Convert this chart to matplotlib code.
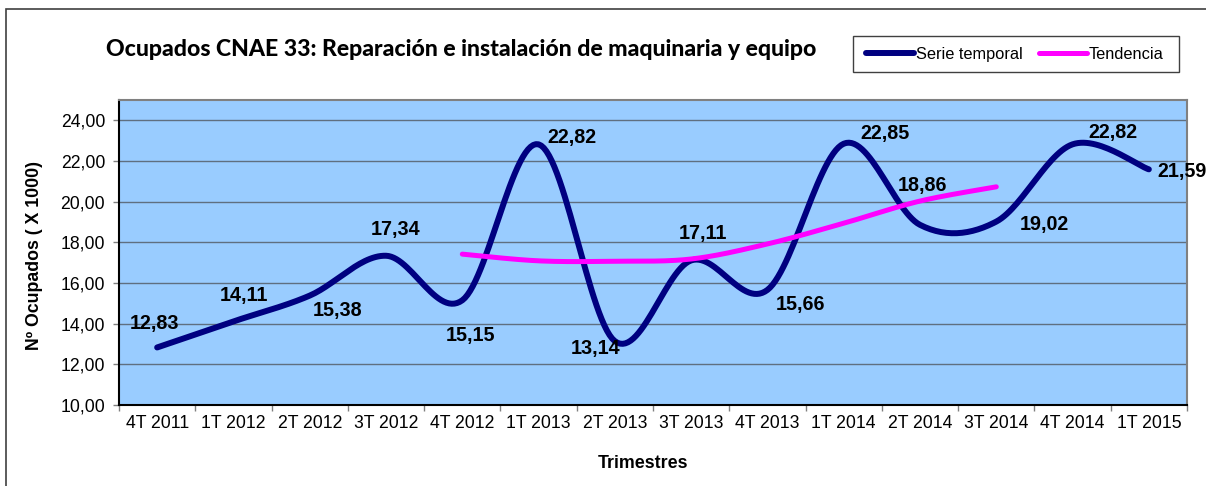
import numpy as np
import matplotlib
matplotlib.use("Agg")
import matplotlib.pyplot as plt
from matplotlib.patches import Rectangle

# Ocupados CNAE 33 - serie temporal y tendencia por trimestre

trimestres = ["4T 2011", "1T 2012", "2T 2012", "3T 2012", "4T 2012", "1T 2013", "2T 2013",
              "3T 2013", "4T 2013", "1T 2014", "2T 2014", "3T 2014", "4T 2014", "1T 2015"]
serie = [12.83, 14.11, 15.38, 17.34, 15.15, 22.82, 13.14,
         17.11, 15.66, 22.85, 18.86, 19.02, 22.82, 21.59]
tendencia = [None, None, None, None, 17.42, 17.09, 17.07,
             17.18, 17.92, 18.94, 20.03, 20.73, None, None]
etiquetas = ["12,83", "14,11", "15,38", "17,34", "15,15", "22,82", "13,14",
             "17,11", "15,66", "22,85", "18,86", "19,02", "22,82", "21,59"]
# label offsets in pixels (dx, dy) from each point
offsets = [(-3, 24), (11, 26), (28, -15), (10, 26), (8, -35), (33, 7), (-19, -7),
           (12, 27), (33, -15), (41, 10), (3, 39), (48, -3), (40, 12), (33, -2)]


def smooth(x, y, n=30):
    # excel-like smoothed line (catmull-rom as cubic bezier)
    x = np.asarray(x, float)
    y = np.asarray(y, float)
    px = np.concatenate([[x[0]], x, [x[-1]]])
    py = np.concatenate([[y[0]], y, [y[-1]]])
    xs, ys = [], []
    t = np.linspace(0, 1, n)
    for i in range(1, len(px) - 2):
        p0 = np.array([px[i], py[i]])
        p3 = np.array([px[i + 1], py[i + 1]])
        c1 = p0 + (p3 - np.array([px[i - 1], py[i - 1]])) / 6
        c2 = p3 - (np.array([px[i + 2], py[i + 2]]) - p0) / 6
        b = (np.outer((1 - t) ** 3, p0) + np.outer(3 * (1 - t) ** 2 * t, c1)
             + np.outer(3 * (1 - t) * t ** 2, c2) + np.outer(t ** 3, p3))
        xs.append(b[:, 0])
        ys.append(b[:, 1])
    return np.concatenate(xs), np.concatenate(ys)


W, H = 1206, 486
fig = plt.figure(figsize=(W / 100, H / 100), dpi=100)
fig.patches.append(Rectangle((6 / W, -0.1), 1.2, 1 - 9 / H + 0.1, transform=fig.transFigure,
                             fill=False, edgecolor="#404040", lw=1.2))

ax = fig.add_axes([119 / W, 81 / H, 1068 / W, 305 / H])
ax.set_facecolor("#99CCFF")

idx = np.arange(len(trimestres))
sx, sy = smooth(idx, serie)
ax.plot(sx, sy, color="#000080", lw=4.3, solid_capstyle="round", label="Serie temporal", zorder=3)

ti = [i for i, v in enumerate(tendencia) if v is not None]
tv = [tendencia[i] for i in ti]
tx, ty = smooth(ti, tv)
ax.plot(tx, ty, color="#FF00FF", lw=3.6, solid_capstyle="round", label="Tendencia", zorder=4)

for i, (lab, (dx, dy)) in enumerate(zip(etiquetas, offsets)):
    ax.annotate(lab, (i, serie[i]), xytext=(dx * 0.72, dy * 0.72), textcoords="offset points",
                ha="center", va="center", fontsize=14.2, fontweight="bold",
                family="Liberation Sans", annotation_clip=False, zorder=5)

ax.set_xlim(-0.5, len(trimestres) - 0.5)
ax.set_ylim(10, 25)
ax.set_yticks(np.arange(10, 25, 2))
ax.set_yticklabels([f"{v:.2f}".replace(".", ",") for v in np.arange(10, 25, 2)],
                   family="Liberation Sans", fontsize=12.7)
ax.set_xticks(idx)
ax.set_xticklabels(trimestres, family="Liberation Sans", fontsize=12.7)
ax.set_xticks(np.arange(-0.5, len(trimestres), 1), minor=True)
ax.tick_params(axis="x", which="major", length=0, pad=7)
ax.tick_params(axis="x", which="minor", length=4, width=1, color="#808080")
ax.tick_params(axis="y", length=4, width=1, color="#808080", pad=6)
ax.grid(axis="y", color="#5f6f80", lw=1, zorder=1)
ax.set_axisbelow(True)

for s in ["top", "right"]:
    ax.spines[s].set_color("#808080")
    ax.spines[s].set_linewidth(1.5)
for s in ["left", "bottom"]:
    ax.spines[s].set_color("black")
    ax.spines[s].set_linewidth(1.5)

fig.text(35 / W, 1 - 255 / H, "Nº Ocupados ( X 1000)", rotation=90, ha="center", va="center",
         fontsize=12.8, fontweight="bold", family="Liberation Sans")
fig.text(643 / W, 1 - 463 / H, "Trimestres", ha="center", va="center",
         fontsize=12.8, fontweight="bold", family="Liberation Sans")
fig.text(461 / W, 1 - 50 / H, "Ocupados CNAE 33: Reparación e instalación de maquinaria y equipo",
         ha="center", va="center", fontsize=16.6, fontweight="black", family="Lato")

# legend box drawn by hand, entries placed inside it
fig.patches.append(Rectangle((853 / W, 1 - 72 / H), 326 / W, 36 / H, transform=fig.transFigure,
                             facecolor="white", edgecolor="#404040", lw=1))
leg = fig.legend(loc="center left", bbox_to_anchor=(866 / W, 1 - 54 / H), ncol=2,
                 prop={"family": "Liberation Sans", "size": 11.8}, frameon=False,
                 handlelength=2.9, handletextpad=0.15, columnspacing=1.0, borderpad=0,
                 borderaxespad=0)

fig.savefig("out.png", dpi=100)
